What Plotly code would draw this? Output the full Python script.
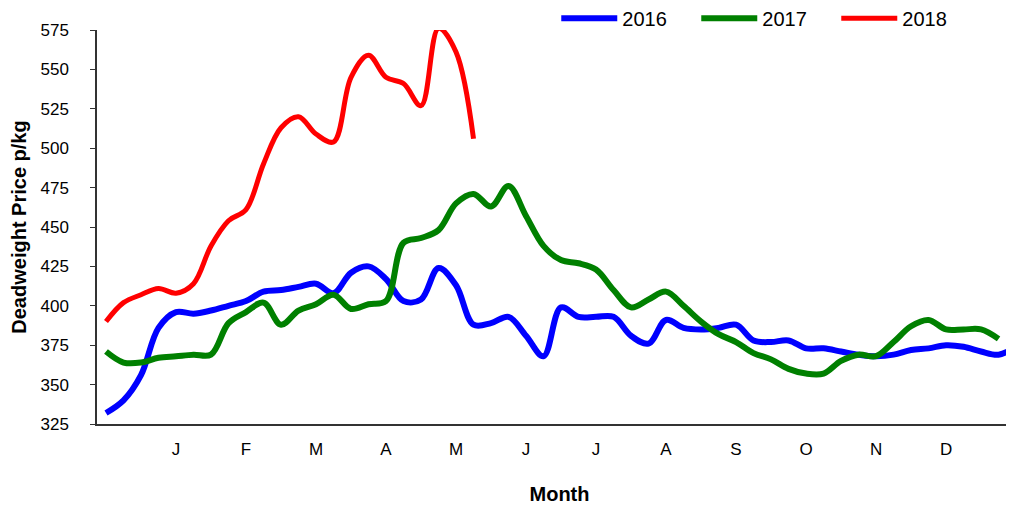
import plotly.graph_objects as go

# weekly deadweight prices, p/kg (week index 0 = first week of the year)
price_2016 = [332, 340, 356, 386, 396, 395, 397, 400, 403, 409,
              410, 412, 414, 408, 421, 425, 417, 403, 404, 424,
              413, 388, 389, 393, 381, 368, 399, 393, 393, 393,
              381, 376, 391, 386, 385, 386, 388, 378, 377, 378,
              373, 373, 371, 369, 368, 369, 372, 373, 375, 374,
              371, 369, 374]
price_2017 = [371, 364, 364, 367, 368, 369, 369, 389, 396, 402,
              388, 397, 401, 407, 398, 401, 403, 440, 443, 448,
              465, 471, 463, 476, 457, 438, 429, 427, 423, 410,
              399, 404, 409, 400, 390, 382, 377, 370, 366, 360,
              357, 357, 365, 369, 368, 377, 387, 391, 385, 385,
              385, 379]
price_2018 = [390, 402, 407, 411, 408, 414, 438, 454, 461, 490,
              513, 520, 509, 504, 545, 559, 545, 541, 527, 576,
              561, 506]

month_labels = ["J", "F", "M", "A", "M", "J", "J", "A", "S", "O", "N", "D"]
month_weeks = [4, 8, 12, 16, 20, 24, 28, 32, 36, 40, 44, 48]

series = [
    ("2016", price_2016, "#0000FF", 6),
    ("2017", price_2017, "#008000", 6),
    ("2018", price_2018, "#FF0000", 5),
]

FONT = "Liberation Sans, Arial, sans-serif"

fig = go.Figure()
for name, vals, colour, width in series:
    fig.add_trace(go.Scatter(
        x=list(range(len(vals))), y=vals, name=name, mode="lines",
        line=dict(color=colour, width=width, shape="spline", smoothing=1.0),
    ))

# page body adds 8px around the div; the plot is allowed to run off the right
# edge like the cropped original. paper runs to the top and the y axis domain
# stops short of it so the legend can sit up there; autoexpand off so nothing
# pushes the margins.
fig.update_layout(
    width=1014, height=502,
    margin=dict(l=89, r=0, t=0, b=86, autoexpand=False),
    paper_bgcolor="white", plot_bgcolor="white",
    font=dict(family=FONT, size=17, color="black"),
    showlegend=True,
    legend=dict(orientation="h", x=0.4965, y=1.022, xanchor="left", yanchor="top",
                font=dict(size=20), entrywidth=69, entrywidthmode="pixels",
                itemwidth=56, bgcolor="rgba(0,0,0,0)"),
)

fig.update_xaxes(
    range=[-0.514, 52.34],
    tickmode="array", tickvals=month_weeks, ticktext=month_labels,
    ticks="", showgrid=False, zeroline=False,
    showline=True, linecolor="#333333", linewidth=1.5,
    ticklabelstandoff=9,
    title=dict(text="<b>Month</b>", font=dict(size=20), standoff=29),
)
fig.update_yaxes(
    domain=[0, 394 / 416],
    range=[325, 575], dtick=25,
    ticks="outside", ticklen=5, tickcolor="#333333",
    showgrid=False, zeroline=False,
    showline=True, linecolor="#333333", linewidth=1.5,
    ticklabelstandoff=18,
    title=dict(text="<b>Deadweight Price p/kg</b>", font=dict(size=20), standoff=12),
)

fig.write_html("out.html")
